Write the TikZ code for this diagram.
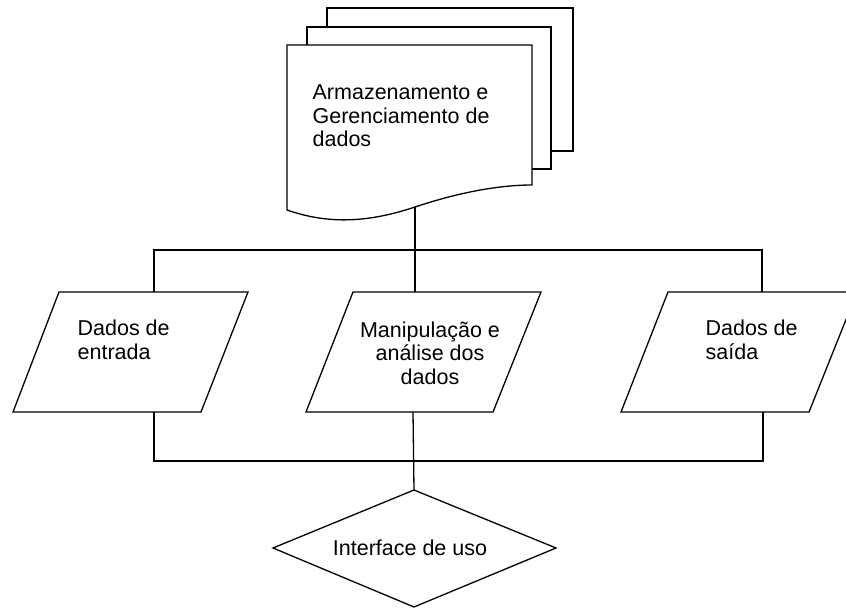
\documentclass[tikz,border=0pt]{standalone}
\usepackage{fontspec}
\setmainfont{Liberation Sans}
\begin{document}
\begin{tikzpicture}[x=1pt,y=-1pt,line width=1.3pt,line join=miter,
  shapeline/.style={draw=black,fill=white},
  conn/.style={draw=black},
  txt/.style={font=\fontsize{21.5}{23.5}\selectfont,inner sep=0pt}]
\useasboundingbox (0,0) rectangle (846,610);
% document stack
\draw[shapeline] (327,8) rectangle (573,151);
\draw[shapeline] (307,27) rectangle (551,169);
\draw[shapeline] (287,45) -- (532,45) -- (532,185)
  .. controls (500,185) and (460,192) .. (415,207)
  .. controls (370,222) and (330,225) .. (287,210) -- cycle;
\coordinate (docb) at (415,207);
\node[txt,align=left,anchor=west] (doct) at (312,116) {Armazenamento e\\Gerenciamento de\\dados};
% parallelograms
\draw[shapeline] (59,292) -- (248,292) -- (201,412) -- (13,412) -- cycle;
\coordinate (int) at (154,292); \coordinate (inb) at (154,412);
\draw[shapeline] (353,292) -- (541,292) -- (493,412) -- (306,412) -- cycle;
\coordinate (mant) at (415,292); \coordinate (manb) at (413,412);
\draw[shapeline] (668,292) -- (857,292) -- (809,412) -- (621,412) -- cycle;
\coordinate (outt) at (762,292); \coordinate (outb) at (763,412);
\node[txt,align=left,anchor=west] (ent) at (77,340) {Dados de\\entrada};
\node[txt,align=center] (man) at (430,353) {Manipulação e\\análise dos\\dados};
\node[txt,align=left,anchor=west] (sai) at (705,340) {Dados de\\saída};
% diamond
\draw[shapeline] (414,490) -- (556,548) -- (414,607) -- (273,548) -- cycle;
\coordinate (diat) at (414,490);
\node[txt] (dia) at (410,548) {Interface de uso};
% connectors
\coordinate (busl) at (154,250); \coordinate (busr) at (762,250);
\coordinate (bbl) at (154,461); \coordinate (bbr) at (763,461);
\draw[conn] (int) -- (busl) -- (busr) -- (outt);
\draw[conn] (docb) -- (mant);
\draw[conn] (inb) -- (bbl) -- (bbr) -- (outb);
\draw[conn] (manb) -- (diat);
\end{tikzpicture}
\end{document}
